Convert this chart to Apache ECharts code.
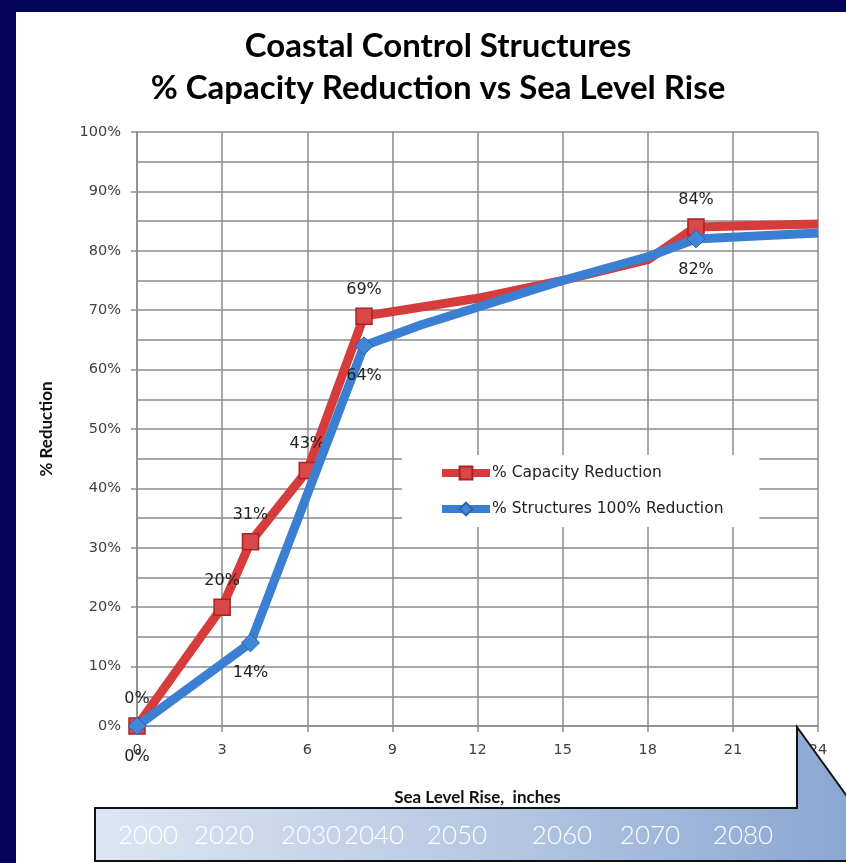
<!DOCTYPE html>
<html>
<head>
<meta charset="utf-8">
<script src="https://cdn.jsdelivr.net/npm/echarts@6/dist/echarts.min.js"></script>
<style>
  html, body { margin: 0; padding: 0; background: #04045a; }
  #frame { position: absolute; left: 16px; top: 12px; width: 830px; height: 851px; background: #ffffff; }
  #chart { position: absolute; left: 0; top: 0; width: 846px; height: 863px; }
</style>
</head>
<body>
<div id="frame"></div>
<div id="chart"></div>
<script>
// ---- data ----
const titleLines = ['Coastal Control Structures', '% Capacity Reduction vs Sea Level Rise'];
const seriesNames = ['% Capacity Reduction', '% Structures 100% Reduction'];
const xTicks = [0, 3, 6, 9, 12, 15, 18, 21, 24];
const yTicks = [0, 10, 20, 30, 40, 50, 60, 70, 80, 90, 100];

const capX = [0, 3, 4, 6, 8, 12, 15, 18, 19.7, 24];
const capY = [0, 20, 31, 43, 69, 72, 75, 78.5, 84, 84.5];
const capMarked = [1, 1, 1, 1, 1, 0, 0, 0, 1, 0];

const strX = [0, 4, 8, 10, 12, 15, 18, 19.7, 24];
const strY = [0, 14, 64, 67.5, 70.5, 75, 79, 82, 83];
const strMarked = [1, 1, 1, 0, 0, 0, 0, 1, 0];

const years = ['2000', '2020', '2030', '2040', '2050', '2060', '2070', '2080'];

// ---- layout (not data) ----
const yearLabelX = [148, 224, 311, 374, 457, 562, 650, 743];

function buildData(xs, ys, marked) {
  return xs.map((x, i) => {
    const item = { value: [x, ys[i]] };
    if (!marked[i]) {
      item.symbol = 'none';
      item.label = { show: false };
    }
    return item;
  });
}

const chart = echarts.init(document.getElementById('chart'), null, { renderer: 'canvas' });

const tickFont = { fontFamily: 'DejaVu Sans', fontSize: 14.5, color: '#404040' };

const option = {
  backgroundColor: 'transparent',
  animation: false,
  title: {
    text: titleLines.join('\n'),
    left: 433,
    top: 20,
    textAlign: 'center',
    textStyle: { fontFamily: 'Lato', fontWeight: 'bold', fontSize: 33, lineHeight: 42, color: '#000' }
  },
  grid: { left: 137, right: 28, top: 132, bottom: 137, containLabel: false },
  xAxis: {
    type: 'value',
    min: xTicks[0], max: xTicks[xTicks.length - 1], interval: 3,
    name: 'Sea Level Rise,  inches',
    nameLocation: 'middle', nameGap: 63,
    nameTextStyle: { fontFamily: 'Lato', fontWeight: 'bold', fontSize: 17, color: '#111' },
    axisLine: { show: true, onZero: false, lineStyle: { color: '#8c8c8c', width: 1.5 } },
    axisTick: { show: true, length: 6, lineStyle: { color: '#8c8c8c', width: 1.5 } },
    axisLabel: Object.assign({ margin: 17 }, tickFont),
    splitLine: { show: true, lineStyle: { color: '#8c8c8c', width: 1.5 } }
  },
  yAxis: {
    type: 'value',
    min: 0, max: 100, interval: 10,
    name: '% Reduction',
    nameLocation: 'middle', nameGap: 82, nameRotate: 90,
    nameTextStyle: { fontFamily: 'Lato', fontWeight: 'bold', fontSize: 17, color: '#111' },
    axisLine: { show: true, lineStyle: { color: '#8c8c8c', width: 1.5 } },
    axisTick: { show: true, length: 6, lineStyle: { color: '#8c8c8c', width: 1.5 } },
    axisLabel: Object.assign({ margin: 16, formatter: v => v + '%' }, tickFont),
    splitLine: { show: true, lineStyle: { color: '#8c8c8c', width: 1.5 } },
    minorTick: { show: false, splitNumber: 2 },
    minorSplitLine: { show: true, lineStyle: { color: '#8c8c8c', width: 1.5 } }
  },
  legend: {
    orient: 'vertical',
    left: 402, top: 455,
    backgroundColor: '#ffffff',
    padding: [10, 36, 10, 36],
    itemWidth: 48, itemHeight: 16, itemGap: 20,
    itemGap: 20,
    lineStyle: { width: 8 },
    textStyle: { fontFamily: 'DejaVu Sans', fontSize: 15.5, color: '#222', padding: [0, 0, 0, -3] },
    data: seriesNames
  },
  series: [
    {
      name: seriesNames[0],
      type: 'line',
      data: buildData(capX, capY, capMarked),
      symbol: 'rect', symbolSize: 16,
      lineStyle: { color: '#d63c3c', width: 9, join: 'round' },
      itemStyle: { color: '#d94848', borderColor: '#a82424', borderWidth: 1.5 },
      label: { show: true, position: 'top', distance: 10, formatter: p => Math.round(p.value[1]) + '%',
               fontFamily: 'DejaVu Sans', fontSize: 16, color: '#222' },
      z: 2
    },
    {
      name: seriesNames[1],
      type: 'line',
      data: buildData(strX, strY, strMarked),
      symbol: 'diamond', symbolSize: 18,
      lineStyle: { color: '#3b7fd2', width: 9, join: 'round' },
      itemStyle: { color: '#4286d8', borderColor: '#2a62b0', borderWidth: 1 },
      label: { show: true, position: 'bottom', distance: 13, formatter: p => Math.round(p.value[1]) + '%',
               fontFamily: 'DejaVu Sans', fontSize: 16, color: '#222' },
      z: 3
    }
  ],
  graphic: [
    {
      type: 'polygon',
      z: 100,
      shape: { points: [[95, 808], [797, 808], [797, 727], [880, 842], [880, 861], [95, 861]] },
      style: {
        fill: new echarts.graphic.LinearGradient(0, 0, 1, 0, [
          { offset: 0, color: '#dde6f2' },
          { offset: 0.5, color: '#b6c8e3' },
          { offset: 1, color: '#86a4d2' }
        ]),
        stroke: '#111', lineWidth: 2
      }
    }
  ].concat(years.map((y, i) => ({
    type: 'text',
    z: 101,
    x: yearLabelX[i], y: 836,
    style: {
      text: y, fill: '#ffffff', fontFamily: 'Lato', fontWeight: 300, fontSize: 26,
      align: 'center', verticalAlign: 'middle'
    }
  })))
};

chart.setOption(option);
</script>
</body>
</html>
